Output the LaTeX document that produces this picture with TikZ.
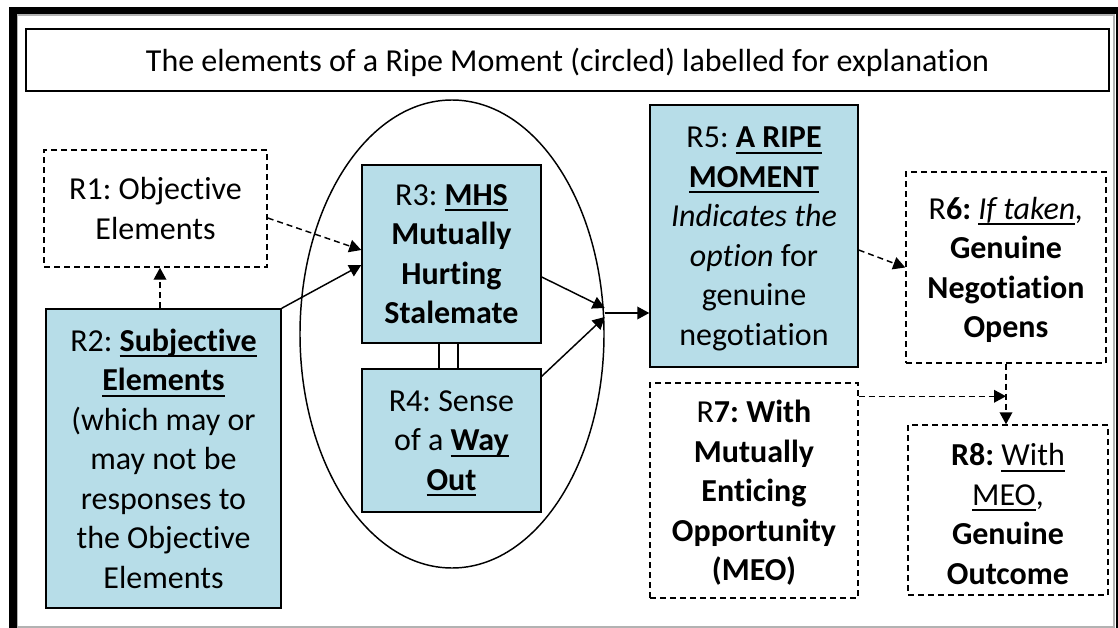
\documentclass[tikz,border=0pt]{standalone}
\usepackage{fontspec}
\setmainfont{Carlito}[Ligatures=NoCommon]
\frenchspacing
\newcommand{\ulx}[1]{\leavevmode\setbox0=\hbox{#1}\rlap{\rule[-4.5pt]{\wd0}{1.5pt}}\box0}
\usetikzlibrary{arrows.meta,calc,shapes.geometric}
\definecolor{boxblue}{HTML}{B7DDE8}
\tikzset{
  base/.style={inner sep=0pt, align=center, text depth=0pt, line width=1.1pt, font=\fontsize{24}{29.6}\selectfont},
  bluebox/.style={base, draw=black, fill=boxblue},
  dashbox/.style={base, draw=black, dash pattern=on 4.5pt off 3pt},
  txt/.style={inner sep=0pt, align=center, font=\fontsize{24}{29.6}\selectfont},
  arr/.style={-{Triangle[length=9pt,width=9.5pt]}, line width=1.1pt},
  darr/.style={arr, dash pattern=on 4.5pt off 3pt},
}
\begin{document}
\begin{tikzpicture}[x=0.75pt,y=-0.75pt]
\useasboundingbox (0,0) rectangle (1118,628);
% frame
\draw[gray!60, line width=0.8pt] (17,15) rectangle (1114,627);
\draw[line width=5.5pt] (13,628) -- (13,10.5) -- (1120,10.5) -- (1120,628);
% title
\node[base, draw=black, minimum width=812.25pt, minimum height=46.5pt, font=\fontsize{24}{28}\selectfont] (title) at (567.5,60)
  {The elements of a Ripe Moment (circled) labelled for explanation};
% ellipse
\node[draw, ellipse, line width=1.1pt, minimum width=228pt, minimum height=351pt, inner sep=0pt] (ring) at (452,334) {};
% boxes
\node[dashbox, minimum width=167.25pt, minimum height=87.75pt] (R1) at (155.5,208.5)
  {R1: Objective\\Elements};
\node[bluebox, minimum width=176.25pt, minimum height=224.25pt] (R2) at (163.5,458.5)
  {R2: \ulx{\textbf{Subjective}}\\\ulx{\textbf{Elements}}\\(which may or\\may not be\\responses to\\the Objective\\Elements};
\node[bluebox, minimum width=134.25pt, minimum height=133.5pt] (R3) at (451.5,254)
  {R3: \ulx{\textbf{MHS}}\\\textbf{Mutually}\\\textbf{Hurting}\\\textbf{Stalemate}};
\node[bluebox, minimum width=134.25pt, minimum height=107.25pt] (R4) at (451.5,440.5)
  {R4: Sense\\of a \ulx{\textbf{Way}}\\\ulx{\textbf{Out}}};
\node[bluebox, minimum width=156pt, minimum height=196.5pt] (R5) at (754,236)
  {R5: \ulx{\textbf{A RIPE}}\\\ulx{\textbf{MOMENT}}\\\textit{Indicates the}\\\textit{option} for\\genuine\\negotiation};
\node[dashbox, minimum width=150pt, minimum height=143.25pt] (R6) at (1006,267.5)
  {R\textbf{6:} \ulx{\textit{If taken}}\textit{,}\\\textbf{Genuine}\\\textbf{Negotiation}\\\textbf{Opens}};
\node[dashbox, minimum width=156pt, minimum height=161.25pt] (R7) at (754,490.5)
  {R\textbf{7: With}\\\textbf{Mutually}\\\textbf{Enticing}\\\textbf{Opportunity}\\\textbf{(MEO)}};
\node[dashbox, minimum width=150pt, minimum height=127.5pt] (R8) at (1008,510) {};
\begin{scope}
  \clip (908,425) rectangle (1108,584);
  \node[txt] (R8t) at (1008,514) {\textbf{R8:} \ulx{With}\\\ulx{MEO},\\\textbf{Genuine}\\\textbf{Outcome}};
\end{scope}
% connectors
\draw[line width=1.1pt] ($(R3.south)+(-12.5,0)$) -- ($(R4.north)+(-12.5,0)$);
\draw[line width=1.1pt] ($(R3.south)+(6.5,0)$) -- ($(R4.north)+(6.5,0)$);
\coordinate (hub) at ($(ring.east)+(0,-21)$);
\draw[darr] ($(R1.east)+(0,9.5)$) -- ($(R3.west)+(0,-4)$);
\draw[arr] (R2.north east) -- ($(R3.west)+(0,11)$);
\draw[darr] ($(R2.north)+(-3.5,0)$) -- ($(R1.south)+(4.5,0)$);
\draw[arr] ($(R3.east)+(0,23)$) -- ($(hub)+(0,-5)$);
\draw[arr] ($(R4.north east)+(0,8)$) -- ($(hub)+(0,4)$);
\draw[arr] (hub) -- (hub -| R5.west);
\draw[darr] ($(R5.east)+(0,14)$) -- (R6.west);
\coordinate (m7) at ($(R7.north east)+(0,14)$);
\draw[darr] (m7) -- (m7 -| R6.south);
\draw[darr] (R6.south) -- (R6.south |- R8.north);
\end{tikzpicture}
\end{document}
